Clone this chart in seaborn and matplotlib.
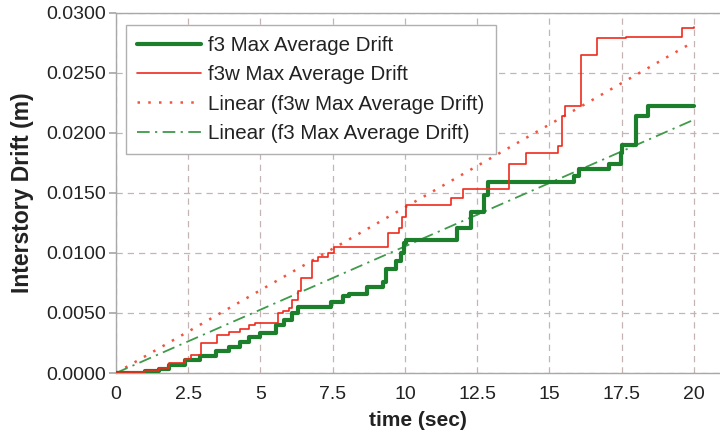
import numpy as np
import pandas as pd
import matplotlib
matplotlib.use("Agg")
import matplotlib.pyplot as plt
import seaborn as sns

# ---- data ----
f3_time = [0, 1.0, 1.5, 1.85, 2.4, 2.9, 3.46, 3.9, 4.3, 4.6, 5.0, 5.55, 5.83, 6.1, 6.3,
           7.44, 7.85, 8.08, 8.7, 9.23, 9.35, 9.7, 9.86, 9.98, 10.04, 11.8, 12.3, 12.75,
           12.86, 15.86, 16.03, 17.07, 17.48, 17.52, 18.0, 18.4, 20.0]
f3_drift = [0, 0.0002, 0.0003, 0.0007, 0.0011, 0.0014, 0.0018, 0.0022, 0.0026, 0.0030,
            0.0033, 0.0040, 0.0044, 0.0050, 0.0055, 0.0059, 0.0064, 0.0066, 0.0072,
            0.0076, 0.0087, 0.0093, 0.0100, 0.0108, 0.0111, 0.0121, 0.0134, 0.0148,
            0.0159, 0.0164, 0.0170, 0.0174, 0.0183, 0.0190, 0.0214, 0.0222, 0.0222]

f3w_time = [0, 0.5, 1.0, 1.5, 1.85, 2.4, 2.6, 2.95, 3.5, 3.9, 4.3, 4.6, 4.8, 5.6, 5.77,
            6.0, 6.1, 6.29, 6.4, 6.8, 6.98, 7.33, 7.56, 9.4, 9.8, 9.9, 10.04, 11.6, 12.0,
            13.6, 14.2, 15.3, 15.45, 15.55, 16.1, 16.66, 17.65, 19.6, 20.0]
f3w_drift = [0, 0.0001, 0.0002, 0.0004, 0.0008, 0.0012, 0.0015, 0.0025, 0.0032, 0.0034,
             0.0037, 0.0040, 0.0042, 0.0050, 0.0052, 0.0054, 0.0061, 0.0068, 0.0079,
             0.0093, 0.0097, 0.0100, 0.0105, 0.0117, 0.0121, 0.0130, 0.0140, 0.0146,
             0.0153, 0.0174, 0.0183, 0.0189, 0.0214, 0.0222, 0.0265, 0.0279, 0.0280,
             0.0287, 0.0288]

trend_time = [0, 20]
f3w_trend = [0.0, 0.0276]
f3_trend = [0.0, 0.0211]

x_ticks = [0, 2.5, 5, 7.5, 10, 12.5, 15, 17.5, 20]
x_tick_labels = ["0", "2.5", "5", "7.5", "10", "12.5", "15", "17.5", "20"]
y_ticks = [0.0, 0.005, 0.010, 0.015, 0.020, 0.025, 0.030]
y_tick_labels = ["0.0000", "0.0050", "0.0100", "0.0150", "0.0200", "0.0250", "0.0300"]

# ---- style ----
sns.set_theme(style="white")
plt.rcParams['font.family'] = ['Liberation Sans', 'DejaVu Sans']

GREEN = "#1b7f2c"
RED = "#ee2a1e"
RED_LIGHT = "#f2543f"
GREEN_LIGHT = "#3f9a4a"
GRID = "#c4b4b4"
SPINE = "#a8a8a8"

fig = plt.figure(figsize=(7.2, 4.43), dpi=100)
ax = fig.add_axes([0.161, 0.158, 0.839, 0.813])

df_f3 = pd.DataFrame({"time": f3_time, "drift": f3_drift})
df_f3w = pd.DataFrame({"time": f3w_time, "drift": f3w_drift})
df_tr = pd.DataFrame({"time": trend_time, "f3w": f3w_trend, "f3": f3_trend})

sns.lineplot(data=df_f3, x="time", y="drift", ax=ax, color=GREEN, linewidth=3.0,
             drawstyle="steps-post", label="f3 Max Average Drift", zorder=4)
sns.lineplot(data=df_f3w, x="time", y="drift", ax=ax, color=RED, linewidth=1.2,
             drawstyle="steps-post", label="f3w Max Average Drift", zorder=5)
sns.lineplot(data=df_tr, x="time", y="f3w", ax=ax, color=RED_LIGHT, linewidth=1.8,
             linestyle=(0, (1.0, 3.3)), label="Linear (f3w Max Average Drift)", zorder=3)
sns.lineplot(data=df_tr, x="time", y="f3", ax=ax, color=GREEN_LIGHT, linewidth=1.3,
             linestyle=(0, (7, 3, 1.2, 3)), label="Linear (f3 Max Average Drift)", zorder=3)

ax.set_xlim(0, 20.9)
ax.set_ylim(0, 0.030)
ax.set_xticks(x_ticks)
ax.set_xticklabels(x_tick_labels)
ax.set_yticks(y_ticks)
ax.set_yticklabels(y_tick_labels)

ax.grid(True, color=GRID, linestyle=(0, (5, 4)), linewidth=0.9)
ax.set_axisbelow(True)
for s in ["left", "bottom", "top"]:
    ax.spines[s].set_color(SPINE)
    ax.spines[s].set_linewidth(1.0)
ax.spines["right"].set_visible(False)

ax.tick_params(axis="y", length=5, color=SPINE, labelsize=14, pad=2, left=True,
               labelcolor="#222222")
ax.tick_params(axis="x", length=0, labelsize=14, pad=9, labelcolor="#222222")

ax.set_xlabel("time (sec)", fontsize=15, fontweight="bold", color="#222222", labelpad=6)
ax.set_ylabel("Interstory Drift (m)", fontsize=16.5, fontweight="bold", color="#222222",
              labelpad=9)

leg = ax.legend(loc="upper left", bbox_to_anchor=(0.0166, 0.967), borderaxespad=0,
                fontsize=14.8, handlelength=3.1, handletextpad=0.35, labelspacing=0.5,
                frameon=True, fancybox=False, edgecolor="#b0b0b0", framealpha=1,
                borderpad=0.55)
leg.get_frame().set_linewidth(1.0)
for t in leg.get_texts():
    t.set_color("#222222")

fig.savefig("out.png", dpi=100)
